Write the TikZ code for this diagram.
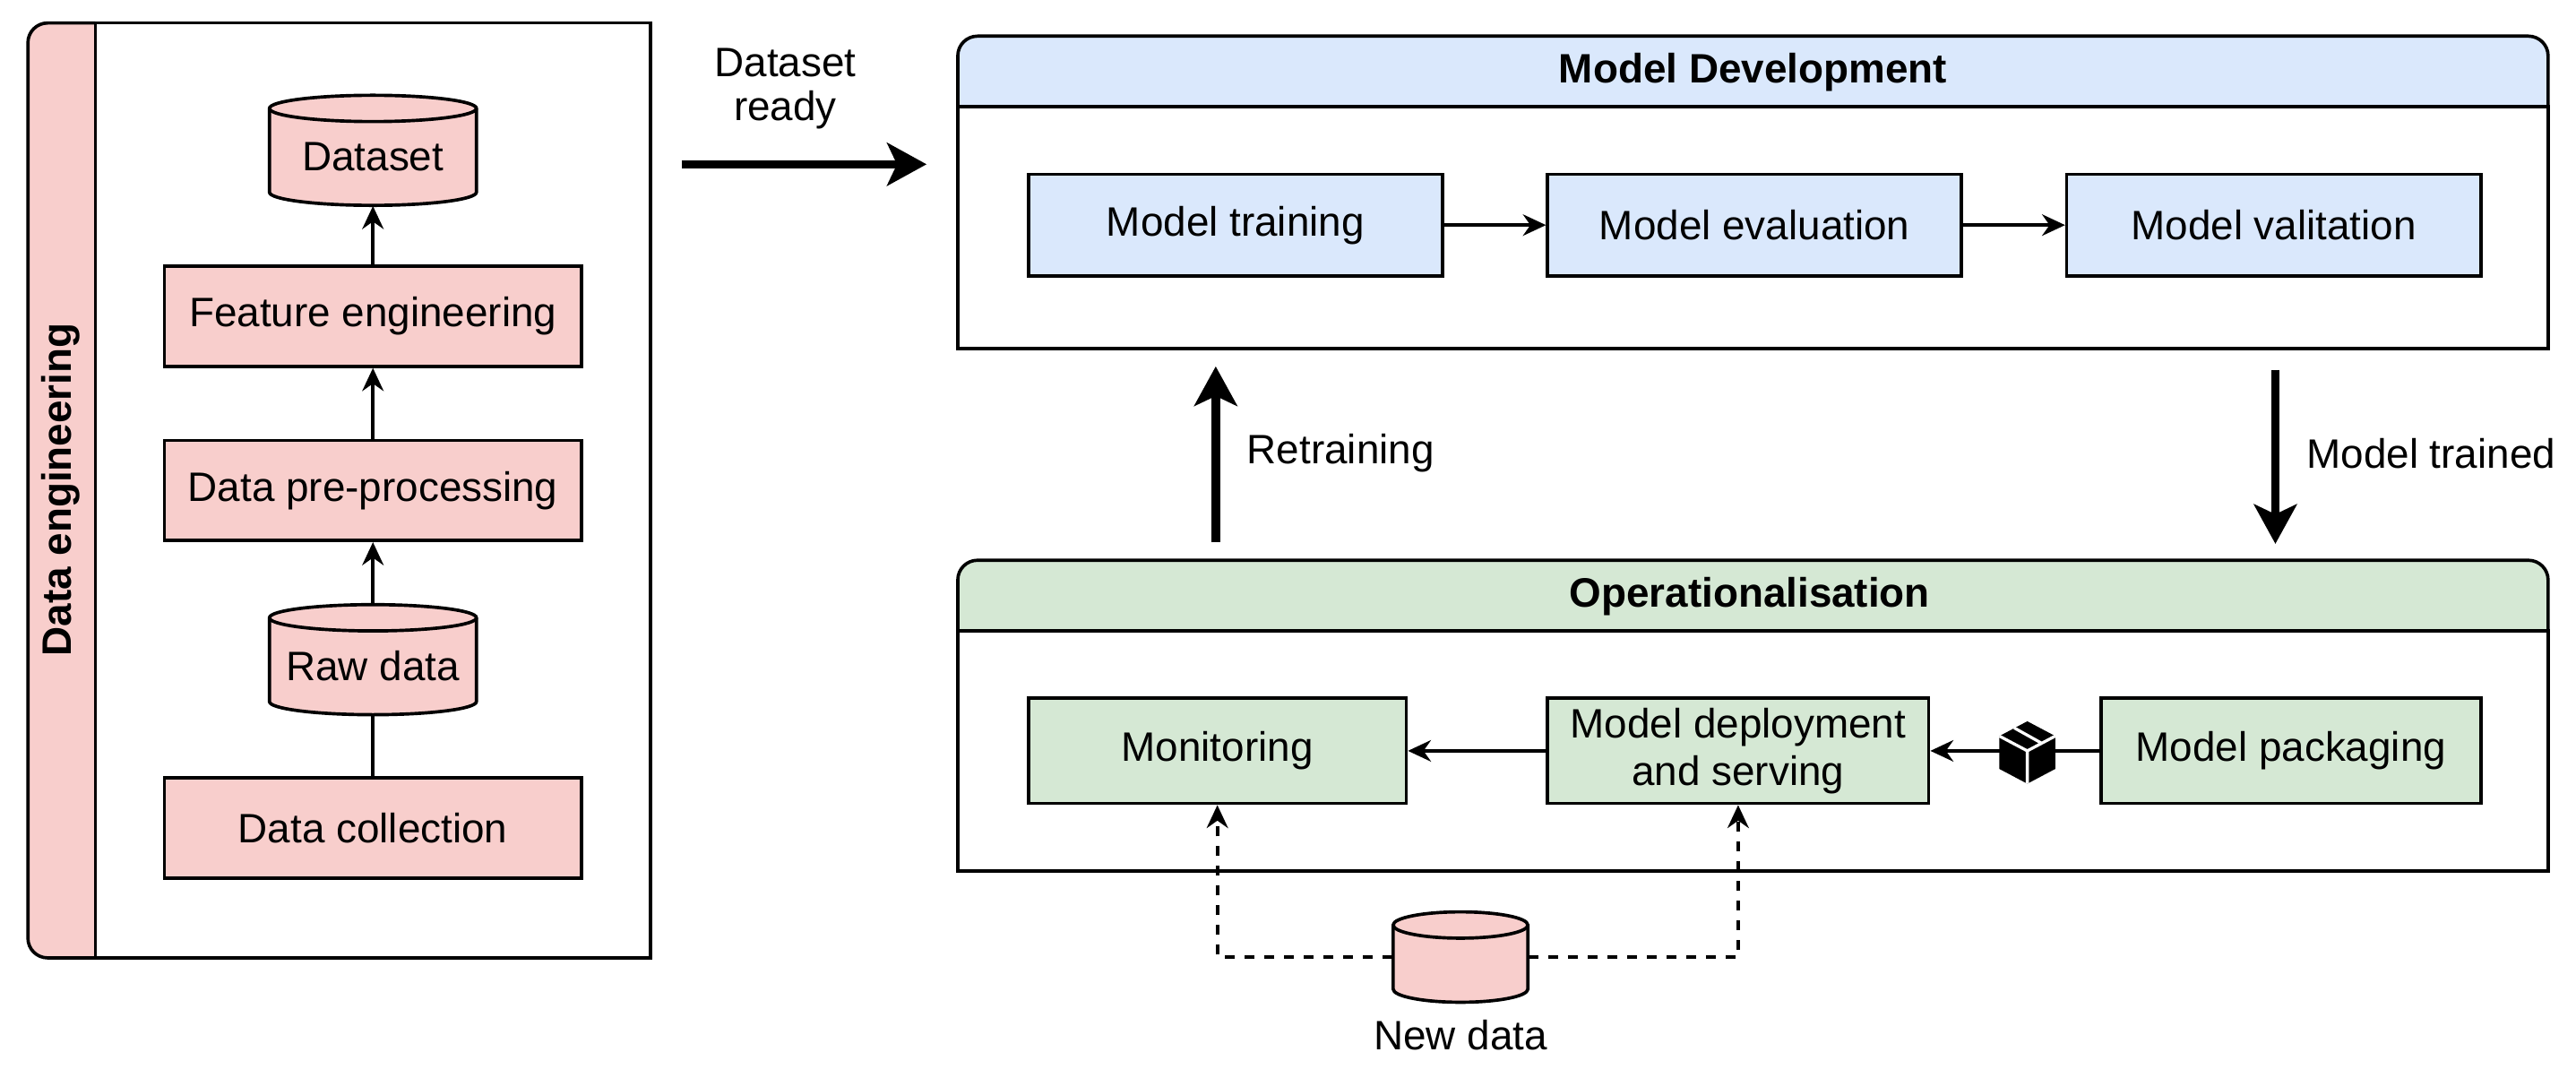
\documentclass[tikz,border=0pt]{standalone}
\usepackage{fontspec}
\setmainfont{Liberation Sans}
\usetikzlibrary{shapes.geometric,arrows.meta,positioning}
\newcommand{\mycyl}[6]{% name, cx, cy, halfw, halfh, text
  \filldraw[line width=1pt,fill=pink1] (#2-#4,#3-#5+8) -- (#2-#4,#3+#5-8) arc[start angle=180,end angle=360,x radius=#4,y radius=-8] -- (#2+#4,#3-#5+8) arc[start angle=0,end angle=180,x radius=#4,y radius=-8] -- cycle;
  \draw[line width=1pt] (#2-#4,#3-#5+8) arc[start angle=180,end angle=360,x radius=#4,y radius=-8];
  \node[minimum width=#4pt,minimum height=#5pt,inner sep=0pt] (#1) at (#2,#3) {};
  \node (#1-t) at (#2,#3+4) {#6};}
\begin{document}
\begin{tikzpicture}[x=0.5pt,y=-0.5pt,
  every node/.style={font=\fontsize{12.5}{14.5}\selectfont},
  box/.style={draw,line width=1pt,inner sep=0pt,align=center},
  pbox/.style={box,fill=pink1,minimum width=127pt,minimum height=30.5pt},
  bbox/.style={box,fill=blue1,minimum width=126pt,minimum height=31pt},
  gbox/.style={box,fill=green1,minimum height=32pt},
  arr/.style={-{Stealth[length=7pt,width=6.5pt]},line width=1pt},
  big/.style={-{Stealth[length=12pt,width=13pt,inset=3pt]},line width=2.6pt},
  dasharr/.style={arr,dashed}]
\definecolor{pink1}{HTML}{F8CECC}
\definecolor{blue1}{HTML}{DAE8FC}
\definecolor{green1}{HTML}{D5E8D4}
\useasboundingbox (0,0) rectangle (1568,656);
% left panel
\draw[line width=1pt,fill=pink1,rounded corners=6pt] (58,14) -| (17,583) -- (58,583);
\draw[line width=1pt] (58,14) rectangle (396,583);
\node[rotate=90,font=\fontsize{12.5}{14.5}\selectfont\bfseries] (delab) at (37,298) {Data engineering};
\mycyl{dataset}{227}{91.5}{63}{33.5}{Dataset}
\node[pbox] (feat) at (227,192.5) {Feature engineering};
\node[pbox] (prep) at (227,298.5) {Data pre-processing};
\mycyl{raw}{227}{401.5}{63}{33.5}{Raw data}
\node[pbox] (coll) at (227,504) {Data collection};
\draw[line width=1pt] (coll) -- (raw);
\draw[arr] (raw) -- (prep);
\draw[arr] (prep) -- (feat);
\draw[arr] (feat) -- (dataset);
% dataset ready
\coordinate (dr1) at (415,100); \coordinate (dr2) at (564,100);
\draw[big] (dr1) -- (dr2);
\node[align=center] (drl) at (478,54) {Dataset\\[-1pt]ready};
% model development
\draw[line width=1pt,fill=blue1,rounded corners=6pt] (583,65) |- (1551,22) -- (1551,65);
\draw[line width=1pt] (583,65) rectangle (1551,212);
\node[font=\fontsize{12.5}{14.5}\selectfont\bfseries] (mdh) at (1067,44) {Model Development};
\node[bbox] (mt) at (752,137) {Model training};
\node[bbox] (me) at (1068,137) {Model evaluation};
\node[bbox] (mv) at (1384,137) {Model valitation};
\draw[arr] (mt) -- (me);
\draw[arr] (me) -- (mv);
% retraining / trained
\coordinate (r1) at (740,330); \coordinate (r2) at (740,223);
\draw[big] (r1) -- (r2);
\node[anchor=west] (rl) at (752,276) {Retraining};
\coordinate (t1) at (1385,225); \coordinate (t2) at (1385,331);
\draw[big] (t1) -- (t2);
\node[anchor=west] (tl) at (1397,276) {Model trained};
% operationalisation
\draw[line width=1pt,fill=green1,rounded corners=6pt] (583,384) |- (1551,341) -- (1551,384);
\draw[line width=1pt] (583,384) rectangle (1551,530);
\node[font=\fontsize{12.5}{14.5}\selectfont\bfseries] (oph) at (1065,363) {Operationalisation};
\node[gbox,minimum width=115pt] (mon) at (741,457) {Monitoring};
\node[gbox,minimum width=116pt] (dep) at (1058,457) {Model deployment\\and serving};
\node[gbox,minimum width=115.5pt] (pack) at (1394.5,457) {Model packaging};
\draw[arr] (pack) -- (dep);
\draw[arr] (dep) -- (mon);
% cube
\begin{scope}[shift={(1234,457)}]
\fill[black] (0,-18) -- (17,-9) -- (17,11) -- (0,20) -- (-17,11) -- (-17,-9) -- cycle;
\draw[white,line width=0.9pt] (-17,-9) -- (0,0) -- (17,-9) (0,0) -- (0,20) (-8,-14) -- (9,-4.5);
\end{scope}
% new data
\mycyl{nd}{889}{582.5}{41}{27.5}{}
\node (ndl) at (889,630) {New data};
\draw[dasharr] (nd.west) -| (mon.south);
\draw[dasharr] (nd.east) -| (dep.south);
\end{tikzpicture}
\end{document}
